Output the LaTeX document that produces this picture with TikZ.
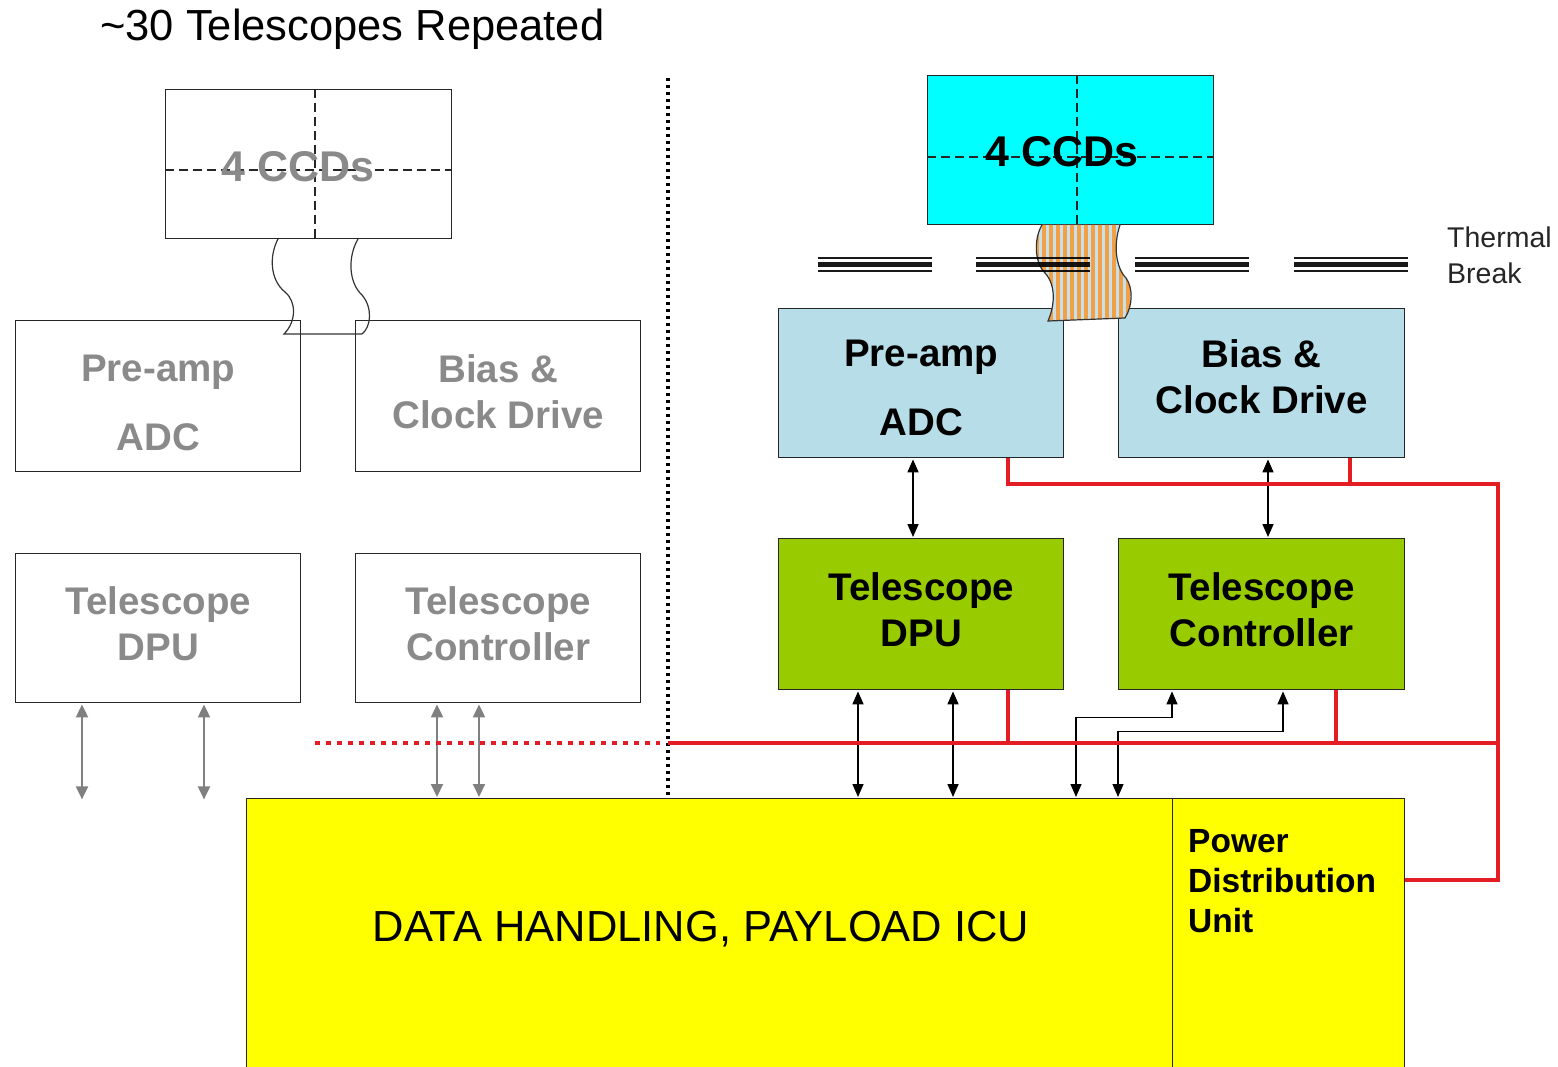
\documentclass[tikz,border=0pt]{standalone}
\usepackage{fontspec}
\setmainfont{Liberation Sans}
\usetikzlibrary{arrows.meta,calc}

\definecolor{ccdcyan}{RGB}{0,255,255}
\definecolor{elecblue}{RGB}{183,221,232}
\definecolor{procgreen}{RGB}{153,204,0}
\definecolor{icuyellow}{RGB}{255,255,0}
\definecolor{powerred}{RGB}{228,28,36}
\definecolor{ghost}{RGB}{138,138,138}
\definecolor{ghostarrow}{RGB}{128,128,128}
\definecolor{flexorange}{RGB}{242,160,70}
\definecolor{flexblue}{RGB}{200,224,234}

\newcommand\boxfont{\fontsize{38.5}{46}\selectfont\bfseries}

\tikzset{
  unit/.style={draw=black!85, line width=1.4pt, anchor=north west, inner sep=0pt,
    minimum width=285pt, minimum height=150pt},
  caption/.style={align=center, inner sep=0pt, font=\boxfont},
  ghostcaption/.style={caption, text=ghost},
  ccdcross/.style={draw=black!85, line width=1.2pt, dash pattern=on 9pt off 5pt},
  ccdlabel/.style={font=\fontsize{43}{48}\selectfont\bfseries, inner sep=0pt},
  arrboth/.style={{Triangle[length=13pt,width=11pt]}-{Triangle[length=13pt,width=11pt]}, line width=1.6pt},
  thinboth/.style={{Triangle[length=13pt,width=11pt]}-{Triangle[length=13pt,width=11pt]}, line width=1.2pt},
  ghostboth/.style={{Triangle[length=13pt,width=12pt]}-{Triangle[length=13pt,width=12pt]}, line width=2pt, draw=ghostarrow, color=ghostarrow},
  power/.style={draw=powerred, line width=4pt},
  flexedge/.style={draw=black!80, line width=1.2pt},
}

\begin{document}
\begin{tikzpicture}[x=1pt,y=-1pt]
\useasboundingbox (0,0) rectangle (1558,1067);

% title
\node[anchor=west, inner sep=0pt, font=\fontsize{43.5}{50}\selectfont] (title) at (100,29)
  {\textasciitilde 30 Telescopes Repeated};

% ---------- repeated (greyed) telescope chain ----------
\node[unit, minimum width=286pt, minimum height=149pt] (lccd) at (165,89) {};
\draw[ccdcross] ($(lccd.north west)+(150,0)$) -- ($(lccd.south west)+(150,0)$);
\draw[ccdcross] ($(lccd.north west)+(0,81)$) -- ($(lccd.north east)+(0,81)$);
\node[ccdlabel, text=ghost] (lccdtext) at ($(lccd.center)+(-11,2)$) {4 CCDs};

\node[unit, minimum height=151pt] (lpre) at (15,320) {};
\node[unit, minimum height=151pt] (lbias) at (355,320) {};
\node[unit, minimum height=149pt] (ldpu) at (15,553) {};
\node[unit, minimum height=149pt] (lctrl) at (355,553) {};
\node[ghostcaption] (lpretext) at ($(lpre.center)+(0,7)$) {Pre-amp\\[23pt]ADC};
\node[ghostcaption] (lbiastext) at ($(lbias.center)+(0,-4.5)$) {Bias \&\\Clock Drive};
\node[ghostcaption] (ldputext) at ($(ldpu.center)+(0,-4.5)$) {Telescope\\DPU};
\node[ghostcaption] (lctrltext) at ($(lctrl.center)+(0,-4.5)$) {Telescope\\Controller};

% flex cable, outline only
\draw[flexedge] (278,239) .. controls (269,256) and (270,280) .. (285,292)
  .. controls (297,302) and (296,322) .. (284,334) -- (362,334);
\draw[flexedge] (358,239) .. controls (348,256) and (348,282) .. (362,295)
  .. controls (373,308) and (371,327) .. (362,334);

% grey links
\draw[ghostboth] ($(ldpu.south west)+(67,1)$) -- ($(ldpu.south west)+(67,96)$);
\draw[ghostboth] ($(ldpu.south west)+(189,1)$) -- ($(ldpu.south west)+(189,96)$);

% ---------- separator ----------
\coordinate (septop) at (668,78);
\coordinate (sepbot) at (668,800);
\draw[line width=3.2pt, dash pattern=on 3pt off 4pt] (septop) -- (sepbot);

% ---------- data handling ----------
\node[draw=black!85, line width=1.4pt, fill=icuyellow, anchor=north west, inner sep=0pt,
  minimum width=926pt, minimum height=275pt] (dh) at (246,798) {};
\node[draw=black!85, line width=1.4pt, fill=icuyellow, anchor=north west, inner sep=0pt,
  minimum width=232pt, minimum height=275pt] (pdu) at (1172,798) {};
\node[font=\fontsize{43.5}{50}\selectfont, inner sep=0pt] (dhtext) at (701,929)
  {DATA HANDLING, PAYLOAD ICU};
\node[anchor=north west, align=left, inner sep=0pt,
  font=\fontsize{33.5}{40}\selectfont\bfseries] (pdutext) at (1188,829)
  {Power\\Distribution\\Unit};

\draw[ghostboth] ($(lctrl.south west)+(82,1)$) -- ($(dh.north west)+(191,-1)$);
\draw[ghostboth] ($(lctrl.south west)+(124,1)$) -- ($(dh.north west)+(233,-1)$);

% ---------- detailed telescope chain ----------
\node[unit, fill=ccdcyan, minimum width=286pt, minimum height=149pt] (rccd) at (927,75) {};
\draw[ccdcross] ($(rccd.north west)+(150,0)$) -- ($(rccd.south west)+(150,0)$);
\draw[ccdcross] ($(rccd.north west)+(0,82)$) -- ($(rccd.north east)+(0,82)$);
\node[ccdlabel] (rccdtext) at ($(rccd.center)+(-9,1)$) {4 CCDs};

\node[unit, fill=elecblue, minimum height=149pt] (rpre) at (778,308) {};
\node[unit, fill=elecblue, minimum width=286pt, minimum height=149pt] (rbias) at (1118,308) {};
\node[unit, fill=procgreen, minimum height=151pt] (rdpu) at (778,538) {};
\node[unit, fill=procgreen, minimum width=286pt, minimum height=151pt] (rctrl) at (1118,538) {};
\node[caption] (rpretext) at ($(rpre.center)+(0,5)$) {Pre-amp\\[23pt]ADC};
\node[caption] (rbiastext) at ($(rbias.center)+(0,-6.5)$) {Bias \&\\Clock Drive};
\node[caption] (rdputext) at ($(rdpu.center)+(0,-4.5)$) {Telescope\\DPU};
\node[caption] (rctrltext) at ($(rctrl.center)+(0,-4.5)$) {Telescope\\Controller};

% flex cable across the thermal break
\begin{scope}
  \path[clip] (1042,225) .. controls (1034,238) and (1034,262) .. (1045,273)
    .. controls (1056,285) and (1055,305) .. (1048,321) -- (1125,318)
    .. controls (1133,305) and (1133,288) .. (1126,278)
    .. controls (1116,268) and (1113,245) .. (1120,225) -- cycle;
  \fill[flexblue] (1025,220) rectangle (1140,325);
  \foreach \sx in {1028,1035,...,1135} \fill[flexorange] (\sx,220) rectangle (\sx+3.6,325);
\end{scope}
\draw[flexedge] (1042,225) .. controls (1034,238) and (1034,262) .. (1045,273)
    .. controls (1056,285) and (1055,305) .. (1048,321) -- (1125,318)
    .. controls (1133,305) and (1133,288) .. (1126,278)
    .. controls (1116,268) and (1113,245) .. (1120,225);

% thermal break
\foreach \tx in {818,976,1135,1294} {
  \draw[line width=1.6pt, opacity=0.9] (\tx,258) -- ++(114,0);
  \draw[line width=5.5pt, opacity=0.9] (\tx,264.5) -- ++(114,0);
  \draw[line width=1.6pt, opacity=0.9] (\tx,271) -- ++(114,0);
}
\node[anchor=west, align=left, inner sep=0pt, text=black!85,
  font=\fontsize{28.5}{36}\selectfont] (tbtext) at (1447,255)
  {Thermal\\Break};

% signal links
\draw[arrboth] ($(rpre.south west)+(135,1)$) -- ($(rdpu.north west)+(135,-1)$);
\draw[arrboth] ($(rbias.south west)+(150,1)$) -- ($(rctrl.north west)+(150,-1)$);
\draw[arrboth] ($(rdpu.south west)+(80,1)$) -- ($(dh.north west)+(612,-1)$);
\draw[arrboth] ($(rdpu.south west)+(175,1)$) -- ($(dh.north west)+(707,-1)$);
\draw[thinboth] ($(dh.north west)+(830,-1)$) |- ($(rctrl.south west)+(54,27)$) -- ($(rctrl.south west)+(54,1)$);
\draw[thinboth] ($(dh.north west)+(872,-1)$) |- ($(rctrl.south west)+(165,41)$) -- ($(rctrl.south west)+(165,1)$);

% power distribution
\coordinate (railtop) at (1498,484);
\coordinate (busleft) at (668,743);
\coordinate (busright) at (1498,743);
\draw[power, dash pattern=on 5pt off 6pt] (315,743) -- (660,743);
\draw[power] (busleft) -- (busright);
\draw[power] ($(rpre.south west)+(230,0)$) |- (railtop) |- ($(pdu.north east)+(0,82)$);
\draw[power] ($(rbias.south west)+(232,0)$) -- ++(0,27);
\draw[power] ($(rdpu.south west)+(230,0)$) -- ($(rdpu.south west)+(230,54)$);
\draw[power] ($(rctrl.south west)+(218,0)$) -- ($(rctrl.south west)+(218,54)$);

\end{tikzpicture}
\end{document}
